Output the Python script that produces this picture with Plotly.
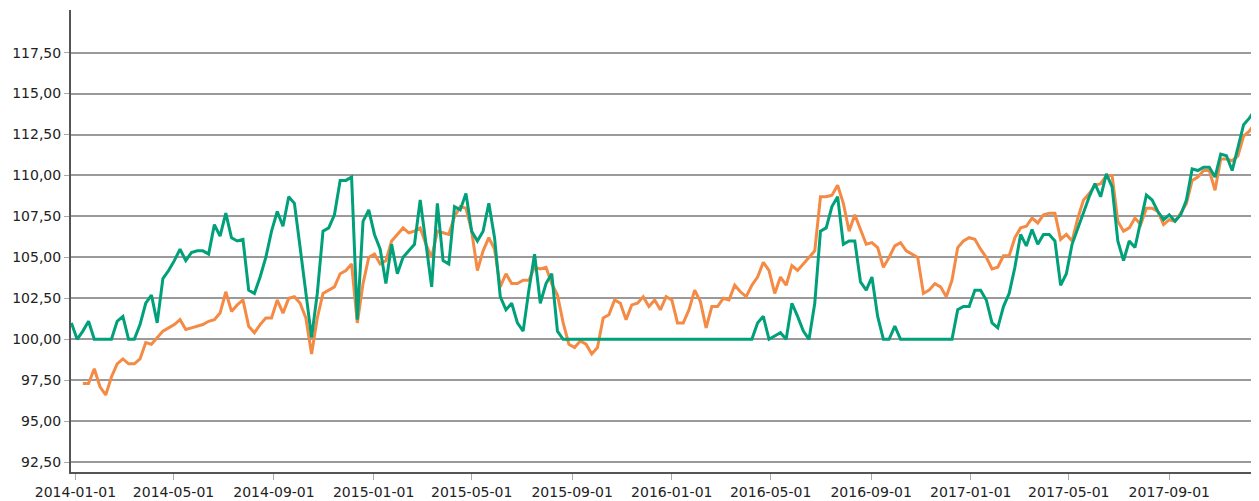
import pandas as pd
import plotly.graph_objects as go

start_date = "2013-12-27"

green_values = [
    101.0, 100.0, 100.5, 101.1, 100.0, 100.0, 100.0, 100.0, 101.1, 101.4,
    100.0, 100.0, 100.9, 102.2, 102.7, 101.0, 103.7, 104.2, 104.8, 105.5,
    104.8, 105.3, 105.4, 105.4, 105.2, 107.0, 106.3, 107.7, 106.2, 106.0,
    106.1, 103.0, 102.8, 103.8, 105.0, 106.6, 107.8, 106.9, 108.7, 108.3,
    105.6, 102.8, 100.1, 102.8, 106.6, 106.8, 107.6, 109.7, 109.7, 109.9,
    101.2, 107.2, 107.9, 106.4, 105.5, 103.4, 105.8, 104.0, 105.0, 105.4,
    105.8, 108.5, 106.0, 103.2, 108.3, 104.8, 104.6, 108.1, 107.9, 108.9,
    106.6, 106.0, 106.6, 108.3, 106.2, 102.6, 101.8, 102.2, 101.0, 100.5,
    103.0, 105.2, 102.2, 103.4, 104.0, 100.5, 100.0, 100.0, 100.0, 100.0,
    100.0, 100.0, 100.0, 100.0, 100.0, 100.0, 100.0, 100.0, 100.0, 100.0,
    100.0, 100.0, 100.0, 100.0, 100.0, 100.0, 100.0, 100.0, 100.0, 100.0,
    100.0, 100.0, 100.0, 100.0, 100.0, 100.0, 100.0, 100.0, 100.0, 100.0,
    101.0, 101.4, 100.0, 100.2, 100.4, 100.0, 102.2, 101.4, 100.5, 100.0,
    102.2, 106.6, 106.8, 108.1, 108.7, 105.8, 106.0, 106.0, 103.5, 103.0,
    103.8, 101.4, 100.0, 100.0, 100.8, 100.0, 100.0, 100.0, 100.0, 100.0,
    100.0, 100.0, 100.0, 100.0, 100.0, 101.8, 102.0, 102.0, 103.0, 103.0,
    102.4, 101.0, 100.7, 102.0, 102.8, 104.4, 106.4, 105.7, 106.7, 105.8,
    106.4, 106.4, 106.0, 103.3, 104.0, 105.8, 106.8, 107.8, 108.7, 109.5,
    108.7, 110.1, 109.3, 106.0, 104.8, 106.0, 105.6, 107.2, 108.8, 108.5,
    107.8, 107.3, 107.6, 107.2, 107.6, 108.5, 110.4, 110.3, 110.5, 110.5,
    109.9, 111.3, 111.2, 110.3, 111.7, 113.1, 113.5, 114.0,
]

orange_values = [
    None, None, 97.3, 97.3, 98.2, 97.1, 96.6, 97.7, 98.5, 98.8,
    98.5, 98.5, 98.8, 99.8, 99.7, 100.1, 100.5, 100.7, 100.9, 101.2,
    100.6, 100.7, 100.8, 100.9, 101.1, 101.2, 101.6, 102.9, 101.7, 102.1,
    102.4, 100.8, 100.4, 100.9, 101.3, 101.3, 102.4, 101.6, 102.5, 102.6,
    102.2, 101.3, 99.1, 101.3, 102.8, 103.0, 103.2, 104.0, 104.2, 104.6,
    101.0, 103.4, 105.0, 105.2, 104.6, 104.8, 106.0, 106.4, 106.8, 106.5,
    106.6, 106.8, 105.8, 105.0, 106.6, 106.5, 106.4, 107.5, 108.1, 108.0,
    106.6, 104.2, 105.4, 106.2, 105.5, 103.2, 104.0, 103.4, 103.4, 103.6,
    103.6, 104.4, 104.3, 104.4, 103.4, 102.7, 101.0, 99.7, 99.5, 99.9,
    99.7, 99.1, 99.5, 101.3, 101.5, 102.4, 102.2, 101.2, 102.1, 102.2,
    102.6, 102.0, 102.4, 101.8, 102.6, 102.4, 101.0, 101.0, 101.8, 103.0,
    102.3, 100.7, 102.0, 102.0, 102.5, 102.4, 103.3, 102.9, 102.6, 103.3,
    103.8, 104.7, 104.2, 102.8, 103.8, 103.3, 104.5, 104.2, 104.6, 105.0,
    105.4, 108.7, 108.7, 108.8, 109.4, 108.3, 106.6, 107.6, 106.7, 105.8,
    105.9, 105.6, 104.4, 105.0, 105.7, 105.9, 105.4, 105.2, 105.0, 102.8,
    103.0, 103.4, 103.2, 102.6, 103.6, 105.6, 106.0, 106.2, 106.1, 105.5,
    105.0, 104.3, 104.4, 105.1, 105.1, 106.2, 106.8, 106.9, 107.4, 107.1,
    107.6, 107.7, 107.7, 106.1, 106.4, 106.0, 107.4, 108.5, 108.9, 109.4,
    109.5, 110.0, 110.0, 107.2, 106.6, 106.8, 107.4, 107.0, 108.0, 108.0,
    107.8, 107.0, 107.3, 107.2, 107.7, 108.3, 109.7, 109.9, 110.3, 110.3,
    109.1, 111.0, 111.0, 110.9, 111.2, 112.4, 112.7, 113.2,
]

dates = pd.date_range(start_date, periods=len(green_values), freq="7D")

y_ticks = [92.5, 95.0, 97.5, 100.0, 102.5, 105.0, 107.5, 110.0, 112.5, 115.0, 117.5]

GREEN = "#00A07A"
ORANGE = "#F58A45"

fig = go.Figure()
fig.add_trace(go.Scatter(x=dates, y=orange_values, mode="lines",
                         line=dict(color=ORANGE, width=3), showlegend=False))
fig.add_trace(go.Scatter(x=dates, y=green_values, mode="lines",
                         line=dict(color=GREEN, width=3), showlegend=False))

# page body has an 8px default margin, so the figure is sized to fit the window
fig.update_layout(
    width=1251, height=493,
    margin=dict(l=63, r=0, t=2, b=29, autoexpand=False),
    paper_bgcolor="white", plot_bgcolor="white",
    separators=",.",
    font=dict(family="DejaVu Sans", size=14, color="#222222"),
    showlegend=False,
)
fig.update_xaxes(
    type="date",
    range=["2013-12-26 12:00", "2017-12-19 20:00"],
    tick0="2014-01-01", dtick="M4", tickformat="%Y-%m-%d",
    showgrid=False, zeroline=False,
    showline=True, linecolor="#555555", linewidth=1.5,
    ticks="outside", ticklen=6, tickcolor="#aaaaaa", tickwidth=1,
)
fig.update_yaxes(
    range=[91.9, 120.1],
    tickvals=y_ticks, tickformat=".2f",
    showgrid=True, gridcolor="#9a9a9a", gridwidth=2,
    zeroline=False,
    showline=True, linecolor="#555555", linewidth=2,
    ticks="outside", ticklen=5, tickcolor="#aaaaaa", tickwidth=1,
)

fig.write_html("out.html")
